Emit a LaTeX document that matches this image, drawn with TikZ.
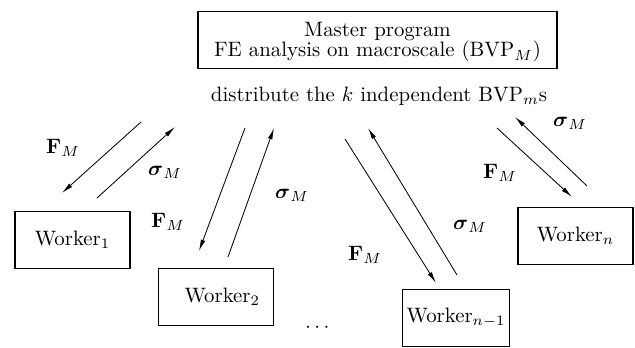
\documentclass[tikz,border=0pt]{standalone}
\usepackage{amsmath}
\usetikzlibrary{arrows.meta}
\begin{document}
\begin{tikzpicture}[x=0.48pt,y=-0.48pt,
  box/.style={draw, line width=0.5pt, inner sep=0pt, align=center},
  worker/.style={box, minimum width=55.2pt, minimum height=27pt},
  flow/.style={-{Latex[length=5.5pt,width=2.2pt]}, line width=0.4pt},
  lbl/.style={inner sep=0pt}]
\useasboundingbox (0,0) rectangle (635,348);

% master process
\node[box, minimum width=172.3pt, minimum height=27pt] (master) at (377.5,40) {};
\node[lbl, align=center] (mastertext) at (377.5,42)
  {Master program\\[-2pt] FE analysis on macroscale (BVP$_M$)};
\node[lbl] (dist) at (379,96) {distribute the $k$ independent BVP$_m$s};

% workers
\node[worker] (w1) at (72.5,240) {Worker$_1$};
\node[worker] (w2) at (216,297) {\hspace*{6pt}Worker$_2$};
\node[box, minimum width=51.8pt, minimum height=27pt] (wn1) at (456,318) {Worker$_{n-1}$};
\node[worker] (wn) at (575.5,236) {Worker$_n$};
\node[lbl] (dots) at (319,328) {$\cdots$};

% arrow end points
\coordinate (a1s) at (141,122); \coordinate (a1e) at (62,193);
\coordinate (a2s) at (97,198);  \coordinate (a2e) at (175,127);
\coordinate (a3s) at (245,128); \coordinate (a3e) at (199,251);
\coordinate (a4s) at (228,257); \coordinate (a4e) at (274,128);
\coordinate (a5s) at (345,139); \coordinate (a5e) at (436,283);
\coordinate (a6s) at (457,275); \coordinate (a6e) at (368,128);
\coordinate (a7s) at (497,128); \coordinate (a7e) at (572,197);
\coordinate (a8s) at (587,186); \coordinate (a8e) at (515,117);

\draw[flow] (a1s) -- (a1e);
\draw[flow] (a2s) -- (a2e);
\draw[flow] (a3s) -- (a3e);
\draw[flow] (a4s) -- (a4e);
\draw[flow] (a5s) -- (a5e);
\draw[flow] (a6s) -- (a6e);
\draw[flow] (a7s) -- (a7e);
\draw[flow] (a8s) -- (a8e);

% labels
\node[lbl] (f1) at (63,148)  {$\mathbf{F}_M$};
\node[lbl] (s1) at (165,172) {$\boldsymbol{\sigma}_M$};
\node[lbl] (f2) at (168,222) {$\mathbf{F}_M$};
\node[lbl] (s2) at (292,195) {$\boldsymbol{\sigma}_M$};
\node[lbl] (f3) at (365,255) {$\mathbf{F}_M$};
\node[lbl] (s3) at (470,226) {$\boldsymbol{\sigma}_M$};
\node[lbl] (f4) at (500,173) {$\mathbf{F}_M$};
\node[lbl] (s4) at (570,123) {$\boldsymbol{\sigma}_M$};
\end{tikzpicture}
\end{document}
